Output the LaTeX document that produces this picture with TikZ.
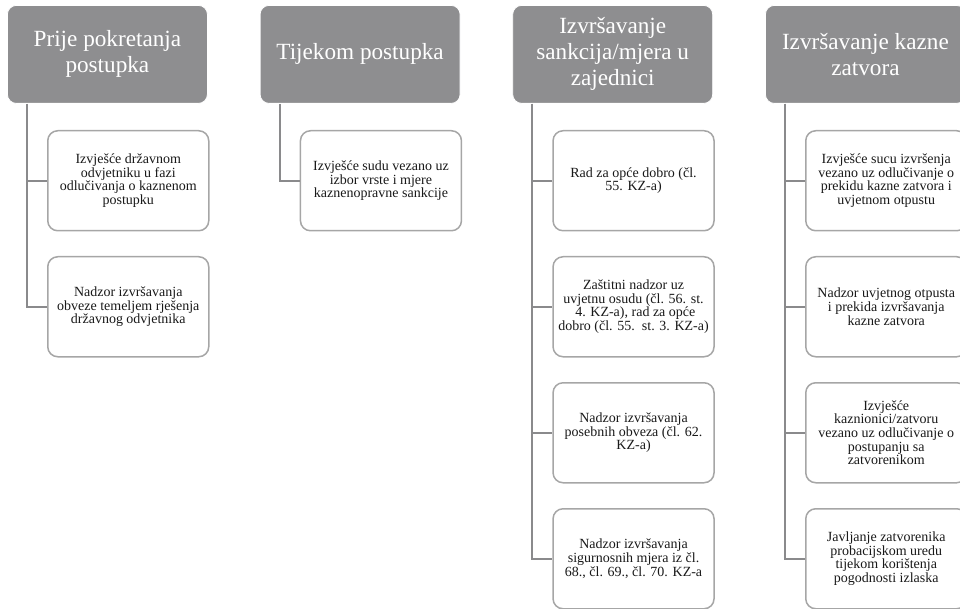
\documentclass[tikz,border=0pt]{standalone}
\usepackage{fontspec}
\setmainfont{Liberation Serif}
\definecolor{hdrgray}{RGB}{142,142,144}
\definecolor{boxgray}{RGB}{166,166,166}
\definecolor{linegray}{RGB}{138,138,140}
\begin{document}
\begin{tikzpicture}[x=1pt,y=-1pt,
  hdr/.style={draw=white, line width=0.8pt, fill=hdrgray, rounded corners=9pt,
    minimum width=200pt, minimum height=98pt, text=white,
    font=\fontsize{23.2}{26}\selectfont, align=center, inner sep=0pt, anchor=north west},
  item/.style={draw=boxgray, line width=1.5pt, fill=white, rounded corners=10pt,
    minimum width=161pt, minimum height=100pt, text=black!90,
    font=\fontsize{14}{13.6}\selectfont, align=center, inner sep=0pt, anchor=north west},
  conn/.style={draw=linegray, line width=2pt}]
\useasboundingbox (0,0) rectangle (960,609);
\clip (0,0) rectangle (960,609);

% Column 1
\node[hdr] (h1) at (7,5) {Prije pokretanja\\postupka};
\node[item] (c11) at (47,130) {Izvješće državnom\\odvjetniku u fazi\\odlučivanja o kaznenom\\postupku};
\node[item] (c12) at (47,256) {Nadzor izvršavanja\\obveze temeljem rješenja\\državnog odvjetnika};

% Column 2
\node[hdr] (h2) at (259.7,5) {Tijekom postupka};
\node[item] (c21) at (299.7,130) {Izvješće sudu vezano uz\\izbor vrste i mjere\\kaznenopravne sankcije};

% Column 3
\node[hdr] (h3) at (512.3,5) {Izvršavanje\\sankcija/mjera u\\zajednici};
\node[item] (c31) at (552.3,130) {Rad za opće dobro (čl.\\55. KZ-a)};
\node[item] (c32) at (552.3,256) {Zaštitni nadzor uz\\uvjetnu osudu (čl. 56. st.\\\ 4. KZ-a), rad za opće\\dobro (čl. 55.\ \ st. 3. KZ-a)};
\node[item] (c33) at (552.3,382) {Nadzor izvršavanja\\posebnih obveza (čl. 62.\\KZ-a)};
\node[item] (c34) at (552.3,508) {Nadzor izvršavanja\\sigurnosnih mjera iz čl.\\68., čl. 69., čl. 70. KZ-a};

% Column 4
\node[hdr] (h4) at (765,5) {Izvršavanje kazne\\zatvora};
\node[item] (c41) at (805,130) {Izvješće sucu izvršenja\\vezano uz odlučivanje o\\prekidu kazne zatvora i\\uvjetnom otpustu};
\node[item] (c42) at (805,256) {Nadzor uvjetnog otpusta\\i prekida izvršavanja\\kazne zatvora};
\node[item] (c43) at (805,382) {Izvješće\\kaznionici/zatvoru\\vezano uz odlučivanje o\\postupanju sa\\zatvorenikom};
\node[item] (c44) at (805,508) {Javljanje zatvorenika\\probacijskom uredu\\tijekom korištenja\\pogodnosti izlaska};

% Connectors
\foreach \h/\c in {h1/c11,h1/c12,h2/c21,h3/c31,h3/c32,h3/c33,h3/c34,h4/c41,h4/c42,h4/c43,h4/c44}
  \draw[conn] ([xshift=20pt]\h.south west) |- (\c.west);
\end{tikzpicture}
\end{document}
